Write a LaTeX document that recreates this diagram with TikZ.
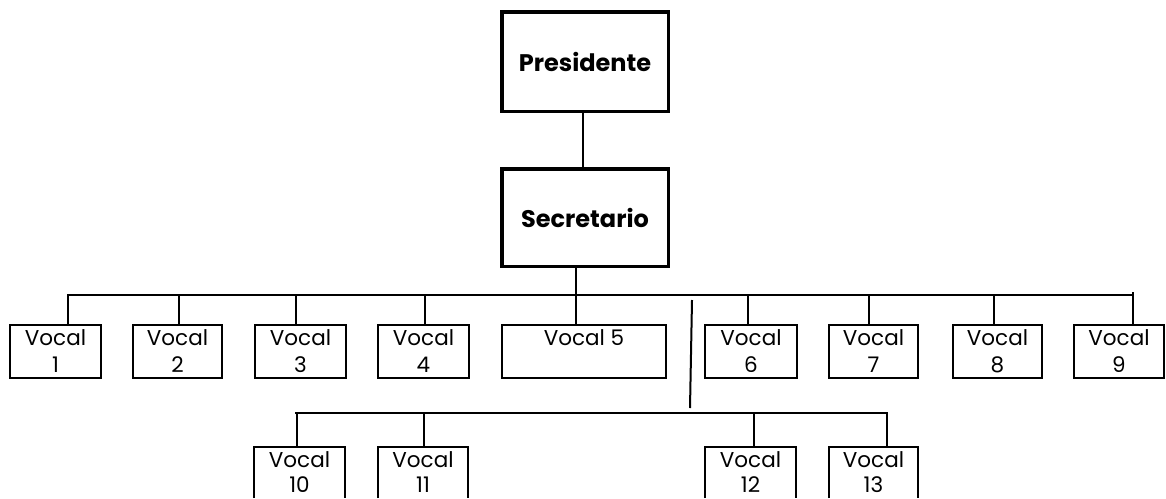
\documentclass[tikz,border=0pt]{standalone}
\usepackage{fontspec}
\setmainfont{Poppins}
\begin{document}
\begin{tikzpicture}[x=1pt,y=-1pt,
  bigbox/.style={draw, line width=3.5pt, minimum width=166.5pt, inner sep=0pt,
    font=\bfseries\fontsize{24}{28}\selectfont},
  vbox/.style={draw, line width=1.8pt, minimum height=53pt, inner sep=0pt, align=center,
    font=\fontsize{21.5}{27}\selectfont},
  lowbox/.style={minimum height=51pt, inner sep=0pt, align=center,
    font=\fontsize{21.5}{25}\selectfont},
  side/.style={line width=1.8pt},
  conn/.style={line width=2pt},
  link/.style={line width=1.8pt}]
\useasboundingbox (0,0) rectangle (1166,498);
% top boxes
\node[bigbox, minimum height=99.5pt] (pres) at (585,61.5) {Presidente};
\node[bigbox, minimum height=97.5pt] (sec) at (585,217.5) {Secretario};
% first row
\node[vbox, minimum width=91pt] (v1) at (55.5,351.5) {Vocal\\1};
\node[vbox, minimum width=89pt] (v2) at (177.5,351.5) {Vocal\\2};
\node[vbox, minimum width=91pt] (v3) at (300.5,351.5) {Vocal\\3};
\node[vbox, minimum width=91pt] (v4) at (423.5,351.5) {Vocal\\4};
\node[vbox, minimum width=164pt] (v5) at (584,351.5) {Vocal 5\\\phantom{5}};
\node[vbox, minimum width=92pt] (v6) at (751,351.5) {Vocal\\6};
\node[vbox, minimum width=89pt] (v7) at (873.5,351.5) {Vocal\\7};
\node[vbox, minimum width=89pt] (v8) at (997.5,351.5) {Vocal\\8};
\node[vbox, minimum width=90pt] (v9) at (1119,351.5) {Vocal\\9};
% second row (boxes run off the bottom edge)
\node[lowbox, minimum width=91pt] (v10) at (299.5,472.5) {Vocal\\10};
\node[lowbox, minimum width=90pt] (v11) at (423,472.5) {Vocal\\11};
\node[lowbox, minimum width=91pt] (v12) at (750.5,472.5) {Vocal\\12};
\node[lowbox, minimum width=89pt] (v13) at (873.5,472.5) {Vocal\\13};
\foreach \v in {v10,v11,v12,v13}
  \draw[side] (\v.south west) -- (\v.north west) -- (\v.north east) -- (\v.south east);
% bus coordinates
\coordinate (busL) at (67,295);
\coordinate (busR) at (1134,295);
\coordinate (s1) at (68,295);
\coordinate (s2) at (179,295);
\coordinate (s3) at (296,295);
\coordinate (s4) at (425,295);
\coordinate (s5) at (576,295);
\coordinate (s6) at (748,295);
\coordinate (s7) at (869,295);
\coordinate (s8) at (994,295);
\coordinate (s9) at (1133,292);
\coordinate (slA) at (692,300);
\coordinate (slB) at (690,408);
\coordinate (bus2L) at (295,413);
\coordinate (bus2R) at (888,413);
\coordinate (t10) at (297,413);
\coordinate (t11) at (424,413);
\coordinate (t12) at (754,413);
\coordinate (t13) at (887,413);
% connectors
\draw[link] (pres.south -| 583,0) -- (sec.north -| 583,0);
\draw[conn] (sec.south -| 576,0) -- (s5);
\draw[conn] (busL) -- (busR);
\foreach \s/\v in {s1/v1,s2/v2,s3/v3,s4/v4,s5/v5,s6/v6,s7/v7,s8/v8,s9/v9}
  \draw[conn] (\s) -- (\s |- \v.north);
\draw[conn] (slA) -- (slB);
\draw[conn] (bus2L) -- (bus2R);
\foreach \s/\v in {t10/v10,t11/v11,t12/v12,t13/v13}
  \draw[conn] (\s) -- (\s |- \v.north);
\end{tikzpicture}
\end{document}
